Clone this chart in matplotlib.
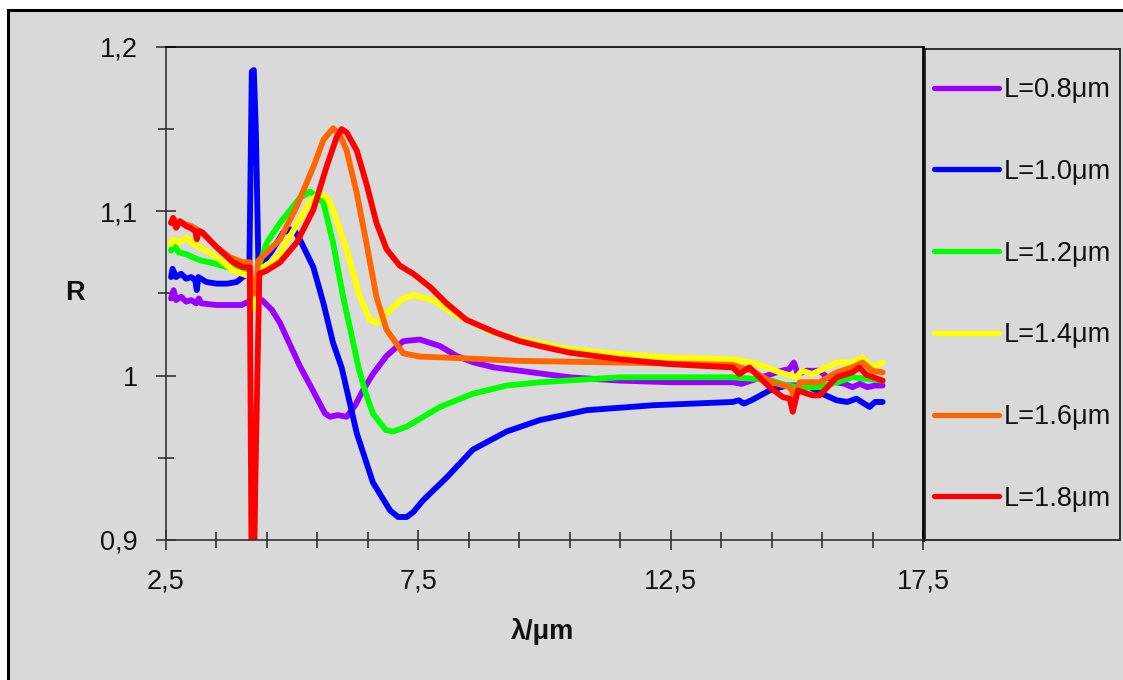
#!/usr/bin/env python3
"""Reflectance spectra R(lambda) for several lengths L, Excel-like look."""

import matplotlib
matplotlib.use("Agg")
import matplotlib.pyplot as plt
from matplotlib.patches import Rectangle
from matplotlib.ticker import FixedLocator, MultipleLocator

# values
labels = ["L=0.8μm", "L=1.0μm", "L=1.2μm", "L=1.4μm", "L=1.6μm", "L=1.8μm"]
colors = ["#9900ff", "#0000ff", "#00ff00", "#ffff00", "#ff6600", "#ff0000"]

x_08 = [2.6, 2.65, 2.7, 2.8, 2.9, 3.0, 3.1, 3.15, 3.2, 3.5, 4.0, 4.2, 4.4, 4.6, 4.76,
        5.15, 5.41, 5.65, 5.75, 5.9, 6.08, 6.25, 6.4, 6.6, 6.87, 7.2, 7.53, 7.93, 8.26,
        8.6, 9.0, 9.51, 10.0, 10.5, 11.49, 12.5, 13.5, 13.73, 13.9, 14.1, 14.4, 14.7,
        14.85, 14.94, 15.02, 15.2, 15.45, 15.6, 15.79, 15.95, 16.1, 16.25, 16.4, 16.55,
        16.7]
r_08 = [1.047, 1.052, 1.046, 1.048, 1.045, 1.046, 1.044, 1.047, 1.044, 1.043, 1.043,
        1.046, 1.046, 1.040, 1.032, 1.006, 0.991, 0.977, 0.975, 0.976, 0.975, 0.982,
        0.991, 1.001, 1.012, 1.021, 1.022, 1.018, 1.012, 1.008, 1.005, 1.003, 1.001,
        0.999, 0.997, 0.996, 0.996, 0.996, 0.995, 0.997, 1.000, 1.003, 1.004, 1.008,
        1.001, 1.003, 1.003, 0.999, 0.996, 0.995, 0.993, 0.995, 0.993, 0.994, 0.994]

x_10 = [2.6, 2.63, 2.7, 2.8, 2.9, 3.0, 3.08, 3.11, 3.14, 3.3, 3.5, 3.71, 3.9, 4.02,
        4.15, 4.2, 4.24, 4.28, 4.33, 4.4, 4.6, 4.82, 4.96, 5.05, 5.15, 5.42, 5.62, 5.81,
        5.98, 6.28, 6.6, 6.94, 7.1, 7.27, 7.4, 7.59, 8.06, 8.58, 9.25, 9.91, 10.84,
        12.15, 13.73, 13.85, 13.95, 14.1, 14.46, 14.8, 15.2, 15.5, 15.79, 16.0, 16.18,
        16.44, 16.55, 16.7]
r_10 = [1.060, 1.065, 1.060, 1.062, 1.059, 1.060, 1.058, 1.052, 1.060, 1.057, 1.056,
        1.056, 1.057, 1.060, 1.062, 1.185, 1.186, 1.150, 1.070, 1.068, 1.076, 1.087,
        1.089, 1.088, 1.083, 1.066, 1.044, 1.020, 1.005, 0.965, 0.935, 0.918, 0.914,
        0.914, 0.917, 0.924, 0.938, 0.955, 0.966, 0.973, 0.979, 0.982, 0.984, 0.985,
        0.983, 0.985, 0.991, 0.994, 0.994, 0.989, 0.985, 0.984, 0.986, 0.981, 0.984,
        0.984]

x_12 = [2.6, 2.65, 2.75, 2.9, 3.03, 3.2, 3.37, 3.71, 4.02, 4.15, 4.22, 4.28, 4.35, 4.5,
        4.76, 5.15, 5.35, 5.5, 5.62, 5.81, 6.01, 6.21, 6.31, 6.45, 6.6, 6.85, 7.0, 7.27,
        7.93, 8.58, 9.25, 9.91, 11.49, 13.73, 14.2, 14.5, 14.8, 15.1, 15.45, 15.8, 16.1,
        16.4, 16.7]
r_12 = [1.076, 1.080, 1.075, 1.074, 1.072, 1.070, 1.069, 1.066, 1.064, 1.064, 1.040,
        1.050, 1.068, 1.081, 1.093, 1.108, 1.112, 1.109, 1.105, 1.081, 1.048, 1.020,
        1.0055, 0.990, 0.977, 0.967, 0.966, 0.969, 0.981, 0.989, 0.994, 0.996, 0.999,
        0.999, 0.998, 0.997, 0.994, 0.993, 0.993, 0.996, 0.999, 0.998, 0.997]

x_14 = [2.6, 2.64, 2.75, 2.92, 3.05, 3.17, 3.3, 3.51, 3.83, 4.1, 4.18, 4.22, 4.3, 4.38,
        4.62, 4.76, 5.15, 5.35, 5.55, 5.7, 5.81, 6.08, 6.34, 6.54, 6.67, 6.94, 7.2, 7.4,
        7.79, 8.19, 8.72, 9.0, 9.51, 9.91, 10.5, 11.49, 12.5, 13.73, 13.9, 14.12, 14.4,
        14.66, 14.99, 15.1, 15.3, 15.59, 15.79, 16.1, 16.3, 16.5, 16.7]
r_14 = [1.080, 1.083, 1.081, 1.084, 1.080, 1.078, 1.076, 1.072, 1.064, 1.061, 1.060,
        1.040, 1.050, 1.065, 1.070, 1.0745, 1.095, 1.106, 1.111, 1.108, 1.101, 1.0765,
        1.048, 1.034, 1.032, 1.040, 1.047, 1.049, 1.046, 1.038, 1.030, 1.026, 1.022,
        1.020, 1.016, 1.013, 1.011, 1.010, 1.009, 1.008, 1.005, 1.002, 0.999, 1.003,
        1.001, 1.005, 1.008, 1.008, 1.011, 1.005, 1.008]

x_16 = [2.6, 2.64, 2.8, 3.0, 3.17, 3.35, 3.51, 3.77, 4.02, 4.16, 4.2, 4.27, 4.33, 4.5,
        4.76, 5.09, 5.42, 5.62, 5.81, 5.95, 6.08, 6.28, 6.47, 6.67, 6.87, 7.2, 7.53,
        8.39, 9.05, 9.51, 11.49, 13.73, 13.88, 14.12, 14.5, 14.86, 14.96, 15.06, 15.45,
        15.79, 16.1, 16.3, 16.5, 16.7]
r_16 = [1.093, 1.095, 1.093, 1.091, 1.088, 1.083, 1.078, 1.072, 1.069, 1.069, 1.050,
        1.050, 1.070, 1.075, 1.083, 1.103, 1.127, 1.1435, 1.1506, 1.146, 1.137, 1.111,
        1.081, 1.048, 1.028, 1.0136, 1.0116, 1.0106, 1.0096, 1.009, 1.008, 1.0065,
        1.005, 1.003, 0.996, 0.993, 0.987, 0.996, 0.996, 1.002, 1.005, 1.008, 1.003,
        1.002]

x_18 = [2.6, 2.64, 2.7, 2.78, 2.9, 2.98, 3.08, 3.11, 3.15, 3.23, 3.35, 3.51, 3.83, 4.02,
        4.16, 4.2, 4.23, 4.27, 4.31, 4.35, 4.5, 4.76, 5.09, 5.42, 5.68, 5.88, 5.98, 6.08,
        6.28, 6.47, 6.67, 6.87, 7.13, 7.4, 7.73, 8.06, 8.45, 9.05, 9.51, 9.91, 10.5,
        11.49, 12.5, 13.73, 13.86, 14.06, 14.46, 14.72, 14.86, 14.92, 15.02, 15.31,
        15.45, 15.79, 16.1, 16.24, 16.38, 16.7]
r_18 = [1.093, 1.096, 1.090, 1.094, 1.091, 1.090, 1.088, 1.083, 1.088, 1.087, 1.083,
        1.078, 1.069, 1.066, 1.066, 0.860, 0.850, 0.935, 1.000, 1.062, 1.064, 1.069,
        1.081, 1.101, 1.127, 1.145, 1.150, 1.148, 1.137, 1.117, 1.093, 1.077, 1.067,
        1.062, 1.054, 1.044, 1.034, 1.026, 1.021, 1.018, 1.014, 1.010, 1.007, 1.005,
        1.001, 1.005, 0.993, 0.987, 0.986, 0.978, 0.991, 0.988, 0.988, 0.999, 1.002,
        1.005, 1.0005, 0.997]

series_x = [x_08, x_10, x_12, x_14, x_16, x_18]
series_r = [r_08, r_10, r_12, r_14, r_16, r_18]

x_ticks = [2.5, 7.5, 12.5, 17.5]
x_tick_labels = ["2,5", "7,5", "12,5", "17,5"]
y_ticks = [0.9, 1.0, 1.1, 1.2]
y_tick_labels = ["0,9", "1", "1,1", "1,2"]

GREY = "#d9d9d9"
W, H = 1123, 680


def main() -> None:
    plt.rcParams["font.family"] = ["Liberation Sans", "DejaVu Sans"]
    fig = plt.figure(figsize=(W / 100, H / 100), dpi=100, facecolor="white")

    # chart area (cropped on the right and at the bottom)
    fig.patches.append(Rectangle((8 / W, -0.1), 1.2, (H - 10) / H + 0.1,
                                 transform=fig.transFigure, facecolor=GREY,
                                 edgecolor="black", linewidth=2.2, zorder=-5))

    ax = fig.add_axes([166 / W, 1 - 540 / H, (923 - 166) / W, (540 - 47) / H])
    ax.set_facecolor(GREY)
    for series_xs, series_rs, color, label in zip(series_x, series_r, colors, labels):
        ax.plot(series_xs, series_rs, color=color, linewidth=4.2, label=label,
                solid_joinstyle="round", solid_capstyle="round")

    ax.set_xlim(2.5, 17.5)
    ax.set_ylim(0.9, 1.2)
    ax.set_xticks(x_ticks, x_tick_labels)
    ax.set_yticks(y_ticks, y_tick_labels)
    ax.xaxis.set_minor_locator(FixedLocator([v + 0.5 for v in range(3, 17)]))
    ax.yaxis.set_minor_locator(MultipleLocator(0.05))

    ax.tick_params(which="major", direction="inout", length=14.5, width=1.2,
                   color="#333333", labelsize=19.5, labelcolor="#111111")
    ax.tick_params(which="minor", direction="inout", length=11, width=1.2,
                   color="#333333")
    ax.tick_params(axis="x", which="major", pad=13)
    ax.tick_params(axis="y", which="major", pad=13)

    for side in ("left", "bottom"):
        ax.spines[side].set_color("#333333")
        ax.spines[side].set_linewidth(1.2)
    ax.spines["top"].set_color("black")
    ax.spines["top"].set_linewidth(1.2)
    ax.spines["right"].set_color("black")
    ax.spines["right"].set_linewidth(2.0)

    ax.set_ylabel("R", rotation=0, fontsize=19.5, fontweight="bold", color="#111111")
    ax.yaxis.set_label_coords(-0.12, 0.5)
    ax.yaxis.label.set_va("center")
    ax.set_xlabel("λ/μm", fontsize=19.5, fontweight="bold", color="#111111")
    ax.xaxis.set_label_coords(0.498, -0.186)
    ax.xaxis.label.set_va("center")

    # legend box to the right of the plot area
    ax_leg = fig.add_axes([925 / W, 1 - 540 / H, (1120 - 925) / W, (540 - 49) / H])
    ax_leg.set_facecolor(GREY)
    ax_leg.set_xticks([])
    ax_leg.set_yticks([])
    for spine in ax_leg.spines.values():
        spine.set_color("#222222")
        spine.set_linewidth(1.3)
    handles, names = ax.get_legend_handles_labels()
    leg = ax_leg.legend(handles, names, loc="center", frameon=False, fontsize=19.5,
                        labelspacing=2.06, handlelength=2.4, handletextpad=0.2,
                        borderaxespad=0.0)
    for line in leg.get_lines():
        line.set_linewidth(3.8)
    for text in leg.get_texts():
        text.set_color("#111111")

    fig.savefig("out.png", dpi=100, facecolor="white")
    plt.close(fig)


if __name__ == "__main__":
    main()
